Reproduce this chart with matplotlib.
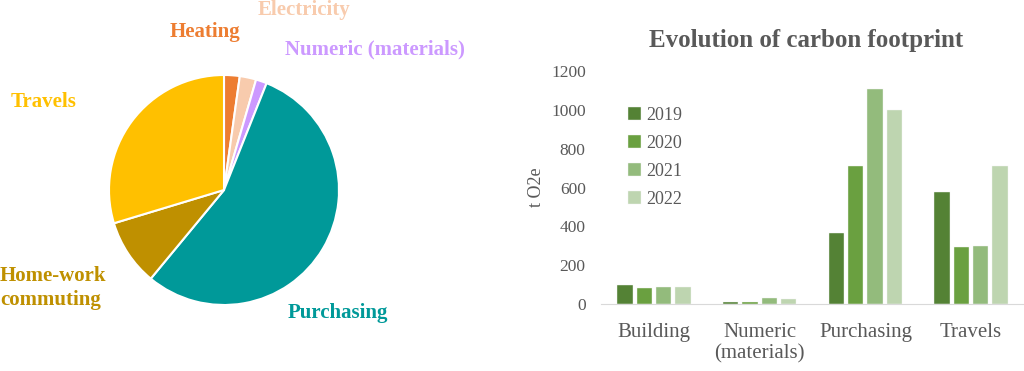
import numpy as np
import matplotlib
matplotlib.use("Agg")
import matplotlib.pyplot as plt

# Pie data (share of carbon footprint)
pie_labels = ["Heating", "Electricity", "Numeric (materials)", "Purchasing",
              "Home-work\ncommuting", "Travels"]
pie_values = [40, 42, 28, 1000, 170, 540]
pie_colors = ["#ED7D31", "#F8CBAD", "#CC99FF", "#009999", "#BF9000", "#FFC000"]

# Bar data (t O2e per year)
categories = ["Building", "Numeric\n(materials)", "Purchasing", "Travels"]
years = ["2019", "2020", "2021", "2022"]
v2019 = [98, 9, 366, 577]
v2020 = [84, 9, 712, 292]
v2021 = [89, 29, 1107, 299]
v2022 = [86, 25, 999, 709]
bar_colors = ["#548235", "#6AA040", "#93BB7C", "#BED5B0"]

W, H = 1024, 371
fig = plt.figure(figsize=(W / 100, H / 100), dpi=100)
plt.rcParams['font.family'] = ['Liberation Serif', 'DejaVu Serif']
grey = "#595959"


def px(x, y):
    return x / W, 1 - y / H


# ---- pie ----
ax1 = fig.add_axes([109 / W, 64 / H, 230 / W, 234 / H])
ax1.pie(pie_values, colors=pie_colors, startangle=90, counterclock=False,
        wedgeprops=dict(edgecolor="white", linewidth=1.5))
ax1.set_xlim(-1, 1)
ax1.set_ylim(-1, 1)
ax1.axis("off")

label_pos = [(205, 32, "center"), (304, 10, "center"), (375, 49, "center"),
             (338, 313, "center"), (0, 288, "left"), (44, 102, "center")]
for lab, col, (x, y, ha) in zip(pie_labels, pie_colors, label_pos):
    fig.text(*px(x, y), lab, color=col, fontsize=15, fontweight="bold",
             ha=ha, va="center", linespacing=1.25)

# ---- bars ----
ax2 = fig.add_axes([601 / W, 67 / H, 423 / W, 233 / H])
x = np.arange(len(categories))
width = 0.145
pitch = 0.183
for i, (vals, col, yr) in enumerate(zip([v2019, v2020, v2021, v2022], bar_colors, years)):
    ax2.bar(x + (i - 1.5) * pitch, vals, width, color=col, label=yr,
            edgecolor="#F2F2F2", linewidth=0.3)

ax2.set_xlim(-0.5, 3.5)
ax2.set_ylim(0, 1200)
ax2.set_yticks(range(0, 1201, 200))
ax2.set_xticks(x)
ax2.set_xticklabels(categories, fontsize=15, color=grey, linespacing=1.1)
ax2.tick_params(axis="x", length=0, pad=14)
ax2.tick_params(axis="y", length=0, pad=11, labelsize=12.5, labelcolor=grey)
for s in ["top", "right", "left"]:
    ax2.spines[s].set_visible(False)
ax2.spines["bottom"].set_color("#D9D9D9")
ax2.set_ylabel("t O2e", fontsize=13, color=grey)
ax2.yaxis.set_label_coords((545 - 601) / 423, 0.5)

ax2.legend(loc="upper left", bbox_to_anchor=(0.064, 0.845), frameon=False,
           fontsize=13, labelcolor=grey, handlelength=0.7, handleheight=0.7,
           handletextpad=0.3, labelspacing=0.6, borderpad=0, borderaxespad=0)

fig.text(*px(806, 40), "Evolution of carbon footprint", fontsize=18,
         fontweight="bold", color=grey, ha="center", va="center")

fig.savefig("out.png", dpi=100)
